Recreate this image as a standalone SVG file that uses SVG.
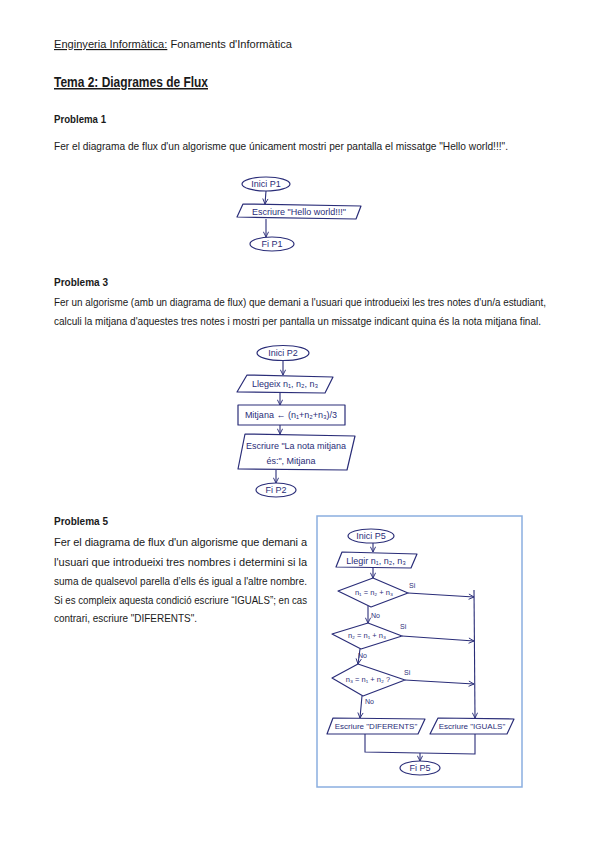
<svg xmlns="http://www.w3.org/2000/svg" width="599" height="848" viewBox="0 0 599 848">
<style>
.doc{font-family:"Liberation Sans",Arial,sans-serif;font-size:11px;fill:#1a1a1a}
.b{font-weight:bold}
.h{font-family:"Liberation Sans",Arial,sans-serif;font-size:9px;fill:#2a2d78}
.s{fill:none;stroke:#2a2d78;stroke-width:1.2;stroke-linejoin:round}
.c{fill:none;stroke:#2a2d78;stroke-width:1.1}
</style>
<defs>
<marker id="ar" viewBox="0 0 10 10" refX="9" refY="5" markerWidth="6" markerHeight="6" orient="auto-start-reverse">
<path d="M1,1 L9,5 L1,9" fill="none" stroke="#2a2d78" stroke-width="1.4"/>
</marker>
</defs>
<rect width="599" height="848" fill="#fff"/>

<g id="text">
<text class="doc" x="54" y="48" style="font-size:11.5px" textLength="238" lengthAdjust="spacingAndGlyphs"><tspan text-decoration="underline">Enginyeria Informàtica:</tspan> Fonaments d'Informàtica</text>
<text class="doc b" x="54" y="87" style="font-size:15px" text-decoration="underline" textLength="154" lengthAdjust="spacingAndGlyphs">Tema 2: Diagrames de Flux</text>
<text class="doc b" x="54" y="123" style="font-size:10.5px" textLength="52" lengthAdjust="spacingAndGlyphs">Problema 1</text>
<text class="doc" x="54" y="150" textLength="454" lengthAdjust="spacingAndGlyphs">Fer el diagrama de flux d'un algorisme que únicament mostri per pantalla el missatge "Hello world!!!".</text>
<text class="doc b" x="54" y="286" style="font-size:10.5px" textLength="54" lengthAdjust="spacingAndGlyphs">Problema 3</text>
<text class="doc" x="54" y="306" style="font-size:10px" textLength="492" lengthAdjust="spacingAndGlyphs">Fer un algorisme (amb un diagrama de flux) que demani a l'usuari que introdueixi les tres notes d'un/a estudiant,</text>
<text class="doc" x="54" y="325" style="font-size:10px" textLength="487" lengthAdjust="spacingAndGlyphs">calculi la mitjana d'aquestes tres notes i mostri per pantalla un missatge indicant quina és la nota mitjana final.</text>
<text class="doc b" x="54" y="525" style="font-size:10.5px" textLength="54" lengthAdjust="spacingAndGlyphs">Problema 5</text>
<text class="doc" x="54" y="546" textLength="253">Fer el diagrama de flux d'un algorisme que demani a</text>
<text class="doc" x="54" y="566" textLength="253">l'usuari que introdueixi tres nombres i determini si la</text>
<text class="doc" x="54" y="585" textLength="253" lengthAdjust="spacingAndGlyphs">suma de qualsevol parella d’ells és igual a l'altre nombre.</text>
<text class="doc" x="54" y="604" textLength="253" lengthAdjust="spacingAndGlyphs">Si es compleix aquesta condició escriure “IGUALS”; en cas</text>
<text class="doc" x="54" y="622" textLength="143" lengthAdjust="spacingAndGlyphs">contrari, escriure "DIFERENTS".</text>
</g>

<rect x="317" y="516" width="205" height="271" fill="none" stroke="#8aaee0" stroke-width="1.5"/>

<g id="connectors">
<line class="c" x1="266" y1="191" x2="265" y2="204" marker-end="url(#ar)"/>
<line class="c" x1="266" y1="219" x2="266" y2="237" marker-end="url(#ar)"/>
<line class="c" x1="283" y1="360" x2="283" y2="375" marker-end="url(#ar)"/>
<line class="c" x1="280" y1="393" x2="280" y2="405" marker-end="url(#ar)"/>
<line class="c" x1="280" y1="425" x2="280" y2="434" marker-end="url(#ar)"/>
<line class="c" x1="276" y1="470" x2="276" y2="483" marker-end="url(#ar)"/>
<line class="c" x1="373" y1="543" x2="373" y2="552" marker-end="url(#ar)"/>
<line class="c" x1="373" y1="568" x2="373" y2="578" marker-end="url(#ar)"/>
<line class="c" x1="368" y1="606" x2="368" y2="623" marker-end="url(#ar)"/>
<line class="c" x1="360" y1="649" x2="358" y2="664" marker-end="url(#ar)"/>
<line class="c" x1="362" y1="696" x2="360" y2="718" marker-end="url(#ar)"/>
<polyline class="c" points="408,593 474,597" marker-end="url(#ar)"/>
<polyline class="c" points="402,636 474,641" marker-end="url(#ar)"/>
<polyline class="c" points="405,680 474,684" marker-end="url(#ar)"/>
<polyline class="c" points="474,590 475,718" marker-end="url(#ar)"/>
<polyline class="c" points="365,734 365,752 475,754 475,734"/>
<line class="c" x1="420" y1="753" x2="420" y2="761" marker-end="url(#ar)"/>
</g>

<g id="p1-inici"><ellipse class="s" cx="266" cy="184" rx="24" ry="7"/><text class="h" x="266" y="187" text-anchor="middle">Inici P1</text></g>
<g id="p1-escriure"><polygon class="s" points="243,204 361,206 356,219 237,217"/><text class="h" x="299" y="215" text-anchor="middle">Escriure "Hello world!!!"</text></g>
<g id="p1-fi"><ellipse class="s" cx="272" cy="244" rx="22" ry="7"/><text class="h" x="272" y="247" text-anchor="middle">Fi  P1</text></g>

<g id="p2-inici"><ellipse class="s" cx="283" cy="353" rx="26" ry="7.5"/><text class="h" x="283" y="356" text-anchor="middle">Inici  P2</text></g>
<g id="p2-llegeix"><polygon class="s" points="247,375 333,377 325,393 237,392"/><text class="h" x="285" y="387" text-anchor="middle">Llegeix n₁, n₂, n₃</text></g>
<g id="p2-mitjana"><rect class="s" x="238" y="405" width="107" height="20"/><text class="h" x="291" y="418" text-anchor="middle">Mitjana ← (n₁+n₂+n₃)/3</text></g>
<g id="p2-escriure"><polygon class="s" points="245,434 355,436 347,470 238,469"/><text class="h" x="296" y="449" text-anchor="middle">Escriure "La nota mitjana</text><text class="h" x="291" y="464" text-anchor="middle">és:", Mitjana</text></g>
<g id="p2-fi"><ellipse class="s" cx="276" cy="490" rx="20" ry="7"/><text class="h" x="276" y="493" text-anchor="middle">Fi P2</text></g>

<g id="p5-inici"><ellipse class="s" cx="371" cy="536" rx="23" ry="7"/><text class="h" x="371" y="539" text-anchor="middle">Inici  P5</text></g>
<g id="p5-llegir"><polygon class="s" points="342,552 417,554 411,568 336,567"/><text class="h" x="376" y="564" text-anchor="middle">Llegir n₁, n₂, n₃</text></g>
<g id="p5-d1"><polygon class="s" points="373,578 408,593 371,607 338,591"/><text class="h" x="374" y="595" style="font-size:7.5px" text-anchor="middle">n₁ = n₂ + n₃</text><text class="h" x="409" y="588" style="font-size:7px">Si</text><text class="h" x="371" y="618" style="font-size:7px">No</text></g>
<g id="p5-d2"><polygon class="s" points="368,623 402,636 361,649 332,634"/><text class="h" x="367" y="638" style="font-size:7.5px" text-anchor="middle">n₂ = n₁ + n₃</text><text class="h" x="400" y="629" style="font-size:7px">Si</text><text class="h" x="358" y="658" style="font-size:7px">No</text></g>
<g id="p5-d3"><polygon class="s" points="358,664 405,680 363,696 332,678"/><text class="h" x="368" y="682" style="font-size:7.5px" text-anchor="middle">n₃ = n₁ + n₂ ?</text><text class="h" x="404" y="675" style="font-size:7px">Si</text><text class="h" x="365" y="704" style="font-size:7px">No</text></g>
<g id="p5-diferents"><polygon class="s" points="333,718 425,719 418,734 327,734"/><text class="h" x="376" y="729" style="font-size:8px" text-anchor="middle">Escriure "DIFERENTS"</text></g>
<g id="p5-iguals"><polygon class="s" points="438,718 514,719 507,734 430,734"/><text class="h" x="472" y="729" style="font-size:8px" text-anchor="middle">Escriure "IGUALS"</text></g>
<g id="p5-fi"><ellipse class="s" cx="420" cy="768" rx="20" ry="7"/><text class="h" x="420" y="771" text-anchor="middle">Fi P5</text></g>
</svg>
